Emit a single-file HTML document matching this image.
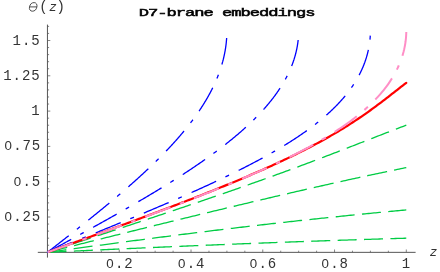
<!DOCTYPE html>
<html><head><meta charset="utf-8"><title>D7-brane embeddings</title>
<style>
html,body{margin:0;padding:0;background:#fff;}
body{width:440px;height:272px;overflow:hidden;}
svg{display:block;will-change:transform;}
text{font-family:"Liberation Mono",monospace;font-size:14px;letter-spacing:0.9px;fill:#333;}
.ttl{font-weight:normal;fill:#000;stroke:#000;stroke-width:0.5px;font-size:11.6px;letter-spacing:-0.70px;}
.lb{letter-spacing:0;fill:#333;}
.it{font-style:italic;}
.zr{font-family:"Liberation Sans",sans-serif;font-size:13.3px;letter-spacing:1.3px;}
</style></head><body>
<svg width="440" height="272" viewBox="0 0 440 272">
<rect width="440" height="272" fill="#fff"/>
<g stroke="#777" stroke-width="0.9" fill="none">
<line x1="65.44" y1="252.30" x2="65.44" y2="250.70"/>
<line x1="83.38" y1="252.30" x2="83.38" y2="250.70"/>
<line x1="101.32" y1="252.30" x2="101.32" y2="250.70"/>
<line x1="119.26" y1="252.30" x2="119.26" y2="249.50"/>
<line x1="137.20" y1="252.30" x2="137.20" y2="250.70"/>
<line x1="155.14" y1="252.30" x2="155.14" y2="250.70"/>
<line x1="173.08" y1="252.30" x2="173.08" y2="250.70"/>
<line x1="191.02" y1="252.30" x2="191.02" y2="249.50"/>
<line x1="208.96" y1="252.30" x2="208.96" y2="250.70"/>
<line x1="226.90" y1="252.30" x2="226.90" y2="250.70"/>
<line x1="244.84" y1="252.30" x2="244.84" y2="250.70"/>
<line x1="262.78" y1="252.30" x2="262.78" y2="249.50"/>
<line x1="280.72" y1="252.30" x2="280.72" y2="250.70"/>
<line x1="298.66" y1="252.30" x2="298.66" y2="250.70"/>
<line x1="316.60" y1="252.30" x2="316.60" y2="250.70"/>
<line x1="334.54" y1="252.30" x2="334.54" y2="249.50"/>
<line x1="352.48" y1="252.30" x2="352.48" y2="250.70"/>
<line x1="370.42" y1="252.30" x2="370.42" y2="250.70"/>
<line x1="388.36" y1="252.30" x2="388.36" y2="250.70"/>
<line x1="406.30" y1="252.30" x2="406.30" y2="249.50"/>
<line x1="47.50" y1="245.24" x2="49.10" y2="245.24"/>
<line x1="47.50" y1="238.18" x2="49.10" y2="238.18"/>
<line x1="47.50" y1="231.12" x2="49.10" y2="231.12"/>
<line x1="47.50" y1="224.06" x2="49.10" y2="224.06"/>
<line x1="47.50" y1="217.00" x2="50.30" y2="217.00"/>
<line x1="47.50" y1="209.94" x2="49.10" y2="209.94"/>
<line x1="47.50" y1="202.88" x2="49.10" y2="202.88"/>
<line x1="47.50" y1="195.82" x2="49.10" y2="195.82"/>
<line x1="47.50" y1="188.76" x2="49.10" y2="188.76"/>
<line x1="47.50" y1="181.70" x2="50.30" y2="181.70"/>
<line x1="47.50" y1="174.64" x2="49.10" y2="174.64"/>
<line x1="47.50" y1="167.58" x2="49.10" y2="167.58"/>
<line x1="47.50" y1="160.52" x2="49.10" y2="160.52"/>
<line x1="47.50" y1="153.46" x2="49.10" y2="153.46"/>
<line x1="47.50" y1="146.40" x2="50.30" y2="146.40"/>
<line x1="47.50" y1="139.34" x2="49.10" y2="139.34"/>
<line x1="47.50" y1="132.28" x2="49.10" y2="132.28"/>
<line x1="47.50" y1="125.22" x2="49.10" y2="125.22"/>
<line x1="47.50" y1="118.16" x2="49.10" y2="118.16"/>
<line x1="47.50" y1="111.10" x2="50.30" y2="111.10"/>
<line x1="47.50" y1="104.04" x2="49.10" y2="104.04"/>
<line x1="47.50" y1="96.98" x2="49.10" y2="96.98"/>
<line x1="47.50" y1="89.92" x2="49.10" y2="89.92"/>
<line x1="47.50" y1="82.86" x2="49.10" y2="82.86"/>
<line x1="47.50" y1="75.80" x2="50.30" y2="75.80"/>
<line x1="47.50" y1="68.74" x2="49.10" y2="68.74"/>
<line x1="47.50" y1="61.68" x2="49.10" y2="61.68"/>
<line x1="47.50" y1="54.62" x2="49.10" y2="54.62"/>
<line x1="47.50" y1="47.56" x2="49.10" y2="47.56"/>
<line x1="47.50" y1="40.50" x2="50.30" y2="40.50"/>
<line x1="47.50" y1="33.44" x2="49.10" y2="33.44"/>
<line x1="47.50" y1="26.38" x2="49.10" y2="26.38"/>
</g>
<g stroke="#555" stroke-width="1" fill="none">
<line x1="37.8" y1="252.35" x2="415.6" y2="252.35"/>
<line x1="47.45" y1="24.6" x2="47.45" y2="257.6"/>
</g>
<g>
<path d="M47.50 252.30 L49.29 252.22 L51.09 252.13 L52.88 252.05 L54.68 251.97 L56.47 251.88 L58.26 251.80 L60.06 251.72 L61.85 251.64 L63.65 251.55 L65.44 251.47 L67.23 251.39 L69.03 251.30 L70.82 251.22 L72.62 251.14 L74.41 251.06 L76.20 250.97 L78.00 250.89 L79.79 250.81 L81.59 250.72 L83.38 250.64 L85.17 250.56 L86.97 250.48 L88.76 250.39 L90.56 250.31 L92.35 250.23 L94.14 250.15 L95.94 250.07 L97.73 249.98 L99.53 249.90 L101.32 249.82 L103.11 249.74 L104.91 249.66 L106.70 249.57 L108.50 249.49 L110.29 249.41 L112.08 249.33 L113.88 249.25 L115.67 249.17 L117.47 249.09 L119.26 249.01 L121.05 248.92 L122.85 248.84 L124.64 248.76 L126.44 248.68 L128.23 248.60 L130.02 248.52 L131.82 248.44 L133.61 248.36 L135.41 248.28 L137.20 248.20 L138.99 248.12 L140.79 248.04 L142.58 247.96 L144.38 247.88 L146.17 247.80 L147.96 247.72 L149.76 247.65 L151.55 247.57 L153.35 247.49 L155.14 247.41 L156.93 247.33 L158.73 247.25 L160.52 247.18 L162.32 247.10 L164.11 247.02 L165.90 246.94 L167.70 246.86 L169.49 246.79 L171.29 246.71 L173.08 246.63 L174.87 246.56 L176.67 246.48 L178.46 246.40 L180.26 246.33 L182.05 246.25 L183.84 246.17 L185.64 246.10 L187.43 246.02 L189.23 245.95 L191.02 245.87 L192.81 245.80 L194.61 245.72 L196.40 245.65 L198.20 245.57 L199.99 245.50 L201.78 245.42 L203.58 245.35 L205.37 245.27 L207.17 245.20 L208.96 245.13 L210.75 245.05 L212.55 244.98 L214.34 244.91 L216.14 244.83 L217.93 244.76 L219.72 244.69 L221.52 244.62 L223.31 244.54 L225.11 244.47 L226.90 244.40 L228.69 244.33 L230.49 244.26 L232.28 244.19 L234.08 244.12 L235.87 244.04 L237.66 243.97 L239.46 243.90 L241.25 243.83 L243.05 243.76 L244.84 243.69 L246.63 243.62 L248.43 243.55 L250.22 243.48 L252.02 243.42 L253.81 243.35 L255.60 243.28 L257.40 243.21 L259.19 243.14 L260.99 243.07 L262.78 243.00 L264.57 242.94 L266.37 242.87 L268.16 242.80 L269.96 242.73 L271.75 242.67 L273.54 242.60 L275.34 242.53 L277.13 242.47 L278.93 242.40 L280.72 242.34 L282.51 242.27 L284.31 242.20 L286.10 242.14 L287.90 242.07 L289.69 242.01 L291.48 241.94 L293.28 241.88 L295.07 241.81 L296.87 241.75 L298.66 241.69 L300.45 241.62 L302.25 241.56 L304.04 241.49 L305.84 241.43 L307.63 241.37 L309.42 241.31 L311.22 241.24 L313.01 241.18 L314.81 241.12 L316.60 241.06 L318.39 240.99 L320.19 240.93 L321.98 240.87 L323.78 240.81 L325.57 240.75 L327.36 240.69 L329.16 240.63 L330.95 240.56 L332.75 240.50 L334.54 240.44 L336.33 240.38 L338.13 240.32 L339.92 240.26 L341.72 240.20 L343.51 240.15 L345.30 240.09 L347.10 240.03 L348.89 239.97 L350.69 239.91 L352.48 239.85 L354.27 239.79 L356.07 239.73 L357.86 239.68 L359.66 239.62 L361.45 239.56 L363.24 239.50 L365.04 239.45 L366.83 239.39 L368.63 239.33 L370.42 239.28 L372.21 239.22 L374.01 239.16 L375.80 239.11 L377.60 239.05 L379.39 239.00 L381.18 238.94 L382.98 238.88 L384.77 238.83 L386.57 238.77 L388.36 238.72 L390.15 238.66 L391.95 238.61 L393.74 238.56 L395.54 238.50 L397.33 238.45 L399.12 238.39 L400.92 238.34 L402.71 238.29 L404.51 238.23 L406.30 238.18" fill="none" stroke="#00cc44" stroke-width="1.3" stroke-dasharray="19 7.4"/>
<path d="M47.50 252.30 L49.29 252.06 L51.09 251.81 L52.88 251.57 L54.68 251.33 L56.47 251.08 L58.26 250.84 L60.06 250.59 L61.85 250.35 L63.65 250.11 L65.44 249.86 L67.23 249.62 L69.03 249.38 L70.82 249.13 L72.62 248.89 L74.41 248.65 L76.20 248.41 L78.00 248.16 L79.79 247.92 L81.59 247.68 L83.38 247.44 L85.17 247.19 L86.97 246.95 L88.76 246.71 L90.56 246.47 L92.35 246.23 L94.14 245.98 L95.94 245.74 L97.73 245.50 L99.53 245.26 L101.32 245.02 L103.11 244.78 L104.91 244.54 L106.70 244.30 L108.50 244.06 L110.29 243.82 L112.08 243.58 L113.88 243.34 L115.67 243.10 L117.47 242.86 L119.26 242.62 L121.05 242.38 L122.85 242.15 L124.64 241.91 L126.44 241.67 L128.23 241.43 L130.02 241.20 L131.82 240.96 L133.61 240.72 L135.41 240.49 L137.20 240.25 L138.99 240.02 L140.79 239.78 L142.58 239.55 L144.38 239.31 L146.17 239.08 L147.96 238.84 L149.76 238.61 L151.55 238.38 L153.35 238.14 L155.14 237.91 L156.93 237.68 L158.73 237.45 L160.52 237.22 L162.32 236.99 L164.11 236.75 L165.90 236.52 L167.70 236.29 L169.49 236.06 L171.29 235.84 L173.08 235.61 L174.87 235.38 L176.67 235.15 L178.46 234.92 L180.26 234.70 L182.05 234.47 L183.84 234.24 L185.64 234.02 L187.43 233.79 L189.23 233.56 L191.02 233.34 L192.81 233.12 L194.61 232.89 L196.40 232.67 L198.20 232.45 L199.99 232.22 L201.78 232.00 L203.58 231.78 L205.37 231.56 L207.17 231.34 L208.96 231.12 L210.75 230.90 L212.55 230.68 L214.34 230.46 L216.14 230.24 L217.93 230.02 L219.72 229.80 L221.52 229.59 L223.31 229.37 L225.11 229.15 L226.90 228.94 L228.69 228.72 L230.49 228.51 L232.28 228.29 L234.08 228.08 L235.87 227.87 L237.66 227.65 L239.46 227.44 L241.25 227.23 L243.05 227.02 L244.84 226.81 L246.63 226.60 L248.43 226.39 L250.22 226.18 L252.02 225.97 L253.81 225.76 L255.60 225.55 L257.40 225.35 L259.19 225.14 L260.99 224.93 L262.78 224.73 L264.57 224.52 L266.37 224.32 L268.16 224.11 L269.96 223.91 L271.75 223.70 L273.54 223.50 L275.34 223.30 L277.13 223.10 L278.93 222.90 L280.72 222.70 L282.51 222.50 L284.31 222.30 L286.10 222.10 L287.90 221.90 L289.69 221.70 L291.48 221.50 L293.28 221.30 L295.07 221.11 L296.87 220.91 L298.66 220.72 L300.45 220.52 L302.25 220.33 L304.04 220.13 L305.84 219.94 L307.63 219.75 L309.42 219.55 L311.22 219.36 L313.01 219.17 L314.81 218.98 L316.60 218.79 L318.39 218.60 L320.19 218.41 L321.98 218.22 L323.78 218.03 L325.57 217.84 L327.36 217.66 L329.16 217.47 L330.95 217.28 L332.75 217.10 L334.54 216.91 L336.33 216.73 L338.13 216.54 L339.92 216.36 L341.72 216.18 L343.51 216.00 L345.30 215.81 L347.10 215.63 L348.89 215.45 L350.69 215.27 L352.48 215.09 L354.27 214.91 L356.07 214.73 L357.86 214.55 L359.66 214.38 L361.45 214.20 L363.24 214.02 L365.04 213.85 L366.83 213.67 L368.63 213.50 L370.42 213.32 L372.21 213.15 L374.01 212.97 L375.80 212.80 L377.60 212.63 L379.39 212.46 L381.18 212.28 L382.98 212.11 L384.77 211.94 L386.57 211.77 L388.36 211.60 L390.15 211.44 L391.95 211.27 L393.74 211.10 L395.54 210.93 L397.33 210.77 L399.12 210.60 L400.92 210.43 L402.71 210.27 L404.51 210.10 L406.30 209.94" fill="none" stroke="#00cc44" stroke-width="1.3" stroke-dasharray="19 7.4"/>
<path d="M47.50 252.30 L49.29 251.85 L51.09 251.40 L52.88 250.95 L54.68 250.50 L56.47 250.05 L58.26 249.60 L60.06 249.14 L61.85 248.69 L63.65 248.24 L65.44 247.79 L67.23 247.34 L69.03 246.89 L70.82 246.44 L72.62 245.99 L74.41 245.54 L76.20 245.09 L78.00 244.64 L79.79 244.19 L81.59 243.74 L83.38 243.29 L85.17 242.84 L86.97 242.39 L88.76 241.94 L90.56 241.49 L92.35 241.04 L94.14 240.59 L95.94 240.14 L97.73 239.70 L99.53 239.25 L101.32 238.80 L103.11 238.35 L104.91 237.90 L106.70 237.45 L108.50 237.01 L110.29 236.56 L112.08 236.11 L113.88 235.66 L115.67 235.22 L117.47 234.77 L119.26 234.32 L121.05 233.87 L122.85 233.43 L124.64 232.98 L126.44 232.54 L128.23 232.09 L130.02 231.64 L131.82 231.20 L133.61 230.75 L135.41 230.31 L137.20 229.86 L138.99 229.42 L140.79 228.97 L142.58 228.53 L144.38 228.09 L146.17 227.64 L147.96 227.20 L149.76 226.75 L151.55 226.31 L153.35 225.87 L155.14 225.43 L156.93 224.98 L158.73 224.54 L160.52 224.10 L162.32 223.66 L164.11 223.22 L165.90 222.78 L167.70 222.34 L169.49 221.90 L171.29 221.46 L173.08 221.02 L174.87 220.58 L176.67 220.14 L178.46 219.70 L180.26 219.26 L182.05 218.82 L183.84 218.38 L185.64 217.95 L187.43 217.51 L189.23 217.07 L191.02 216.63 L192.81 216.20 L194.61 215.76 L196.40 215.33 L198.20 214.89 L199.99 214.45 L201.78 214.02 L203.58 213.58 L205.37 213.15 L207.17 212.72 L208.96 212.28 L210.75 211.85 L212.55 211.42 L214.34 210.98 L216.14 210.55 L217.93 210.12 L219.72 209.69 L221.52 209.26 L223.31 208.83 L225.11 208.40 L226.90 207.97 L228.69 207.54 L230.49 207.11 L232.28 206.68 L234.08 206.25 L235.87 205.82 L237.66 205.39 L239.46 204.96 L241.25 204.54 L243.05 204.11 L244.84 203.68 L246.63 203.26 L248.43 202.83 L250.22 202.41 L252.02 201.98 L253.81 201.56 L255.60 201.13 L257.40 200.71 L259.19 200.28 L260.99 199.86 L262.78 199.44 L264.57 199.02 L266.37 198.59 L268.16 198.17 L269.96 197.75 L271.75 197.33 L273.54 196.91 L275.34 196.49 L277.13 196.07 L278.93 195.65 L280.72 195.24 L282.51 194.82 L284.31 194.40 L286.10 193.98 L287.90 193.57 L289.69 193.15 L291.48 192.74 L293.28 192.32 L295.07 191.91 L296.87 191.49 L298.66 191.08 L300.45 190.67 L302.25 190.25 L304.04 189.84 L305.84 189.43 L307.63 189.02 L309.42 188.61 L311.22 188.20 L313.01 187.79 L314.81 187.38 L316.60 186.97 L318.39 186.57 L320.19 186.16 L321.98 185.75 L323.78 185.35 L325.57 184.94 L327.36 184.54 L329.16 184.14 L330.95 183.73 L332.75 183.33 L334.54 182.93 L336.33 182.53 L338.13 182.13 L339.92 181.73 L341.72 181.33 L343.51 180.93 L345.30 180.53 L347.10 180.14 L348.89 179.74 L350.69 179.35 L352.48 178.95 L354.27 178.56 L356.07 178.17 L357.86 177.78 L359.66 177.39 L361.45 177.00 L363.24 176.61 L365.04 176.22 L366.83 175.83 L368.63 175.45 L370.42 175.06 L372.21 174.68 L374.01 174.29 L375.80 173.91 L377.60 173.53 L379.39 173.15 L381.18 172.77 L382.98 172.39 L384.77 172.02 L386.57 171.64 L388.36 171.26 L390.15 170.89 L391.95 170.52 L393.74 170.15 L395.54 169.78 L397.33 169.41 L399.12 169.04 L400.92 168.67 L402.71 168.31 L404.51 167.94 L406.30 167.58" fill="none" stroke="#00cc44" stroke-width="1.3" stroke-dasharray="20.3 7.1"/>
<path d="M47.50 252.30 L49.29 251.71 L51.09 251.12 L52.88 250.53 L54.68 249.93 L56.47 249.34 L58.26 248.75 L60.06 248.16 L61.85 247.57 L63.65 246.98 L65.44 246.38 L67.23 245.79 L69.03 245.20 L70.82 244.61 L72.62 244.02 L74.41 243.42 L76.20 242.83 L78.00 242.24 L79.79 241.65 L81.59 241.06 L83.38 240.46 L85.17 239.87 L86.97 239.28 L88.76 238.69 L90.56 238.09 L92.35 237.50 L94.14 236.91 L95.94 236.32 L97.73 235.72 L99.53 235.13 L101.32 234.54 L103.11 233.94 L104.91 233.35 L106.70 232.76 L108.50 232.16 L110.29 231.57 L112.08 230.97 L113.88 230.38 L115.67 229.79 L117.47 229.19 L119.26 228.60 L121.05 228.00 L122.85 227.41 L124.64 226.81 L126.44 226.22 L128.23 225.62 L130.02 225.03 L131.82 224.43 L133.61 223.83 L135.41 223.24 L137.20 222.64 L138.99 222.04 L140.79 221.45 L142.58 220.85 L144.38 220.25 L146.17 219.65 L147.96 219.05 L149.76 218.45 L151.55 217.86 L153.35 217.26 L155.14 216.66 L156.93 216.06 L158.73 215.46 L160.52 214.86 L162.32 214.26 L164.11 213.65 L165.90 213.05 L167.70 212.45 L169.49 211.85 L171.29 211.24 L173.08 210.64 L174.87 210.04 L176.67 209.43 L178.46 208.83 L180.26 208.22 L182.05 207.62 L183.84 207.01 L185.64 206.40 L187.43 205.80 L189.23 205.19 L191.02 204.58 L192.81 203.97 L194.61 203.36 L196.40 202.75 L198.20 202.14 L199.99 201.53 L201.78 200.92 L203.58 200.31 L205.37 199.70 L207.17 199.08 L208.96 198.47 L210.75 197.85 L212.55 197.24 L214.34 196.62 L216.14 196.00 L217.93 195.38 L219.72 194.77 L221.52 194.15 L223.31 193.53 L225.11 192.91 L226.90 192.28 L228.69 191.66 L230.49 191.04 L232.28 190.41 L234.08 189.79 L235.87 189.16 L237.66 188.53 L239.46 187.91 L241.25 187.28 L243.05 186.65 L244.84 186.02 L246.63 185.39 L248.43 184.75 L250.22 184.12 L252.02 183.48 L253.81 182.85 L255.60 182.21 L257.40 181.57 L259.19 180.93 L260.99 180.29 L262.78 179.65 L264.57 179.01 L266.37 178.36 L268.16 177.72 L269.96 177.07 L271.75 176.43 L273.54 175.78 L275.34 175.13 L277.13 174.48 L278.93 173.83 L280.72 173.17 L282.51 172.52 L284.31 171.86 L286.10 171.20 L287.90 170.55 L289.69 169.89 L291.48 169.22 L293.28 168.56 L295.07 167.90 L296.87 167.23 L298.66 166.57 L300.45 165.90 L302.25 165.23 L304.04 164.56 L305.84 163.89 L307.63 163.21 L309.42 162.54 L311.22 161.86 L313.01 161.19 L314.81 160.51 L316.60 159.83 L318.39 159.15 L320.19 158.47 L321.98 157.78 L323.78 157.10 L325.57 156.41 L327.36 155.72 L329.16 155.04 L330.95 154.35 L332.75 153.66 L334.54 152.97 L336.33 152.27 L338.13 151.58 L339.92 150.88 L341.72 150.19 L343.51 149.49 L345.30 148.80 L347.10 148.10 L348.89 147.40 L350.69 146.70 L352.48 146.00 L354.27 145.30 L356.07 144.60 L357.86 143.90 L359.66 143.20 L361.45 142.50 L363.24 141.80 L365.04 141.09 L366.83 140.39 L368.63 139.69 L370.42 138.99 L372.21 138.29 L374.01 137.59 L375.80 136.89 L377.60 136.19 L379.39 135.49 L381.18 134.80 L382.98 134.10 L384.77 133.41 L386.57 132.71 L388.36 132.02 L390.15 131.33 L391.95 130.64 L393.74 129.96 L395.54 129.27 L397.33 128.59 L399.12 127.91 L400.92 127.23 L402.71 126.56 L404.51 125.89 L406.30 125.22" fill="none" stroke="#00cc44" stroke-width="1.3" stroke-dasharray="19 7.4"/>
<path d="M47.50 252.30 L48.21 251.74 L48.92 251.19 L49.64 250.63 L50.35 250.08 L51.06 249.52 L51.77 248.96 L52.48 248.41 L53.19 247.85 L53.91 247.30 L54.62 246.74 L55.33 246.19 L56.04 245.63 L56.75 245.07 L57.46 244.52 L58.17 243.96 L58.88 243.41 L59.59 242.85 L60.30 242.29 L61.01 241.74 L61.72 241.18 L62.43 240.63 L63.14 240.07 L63.85 239.51 L64.56 238.96 L65.27 238.40 L65.98 237.85 L66.68 237.29 L67.39 236.74 L68.10 236.18 L68.81 235.62 L69.51 235.07 L70.22 234.51 L70.92 233.96 L71.63 233.40 L72.34 232.84 L73.04 232.29 L73.75 231.73 L74.45 231.18 L75.15 230.62 L75.86 230.06 L76.56 229.51 L77.26 228.95 L77.96 228.40 L78.66 227.84 L79.37 227.29 L80.07 226.73 L80.77 226.17 L81.47 225.62 L82.16 225.06 L82.86 224.51 L83.56 223.95 L84.26 223.39 L84.95 222.84 L85.65 222.28 L86.35 221.73 L87.04 221.17 L87.74 220.61 L88.43 220.06 L89.12 219.50 L89.81 218.95 L90.51 218.39 L91.20 217.84 L91.89 217.28 L92.58 216.72 L93.27 216.17 L93.95 215.61 L94.64 215.06 L95.33 214.50 L96.01 213.94 L96.70 213.39 L97.38 212.83 L98.07 212.28 L98.75 211.72 L99.43 211.16 L100.11 210.61 L100.79 210.05 L101.47 209.50 L102.15 208.94 L102.83 208.39 L103.51 207.83 L104.18 207.27 L104.86 206.72 L105.53 206.16 L106.21 205.61 L106.88 205.05 L107.55 204.49 L108.22 203.94 L108.89 203.38 L109.56 202.83 L110.23 202.27 L110.89 201.71 L111.56 201.16 L112.22 200.60 L112.89 200.05 L113.55 199.49 L114.21 198.94 L114.87 198.38 L115.53 197.82 L116.19 197.27 L116.85 196.71 L117.51 196.16 L118.16 195.60 L118.81 195.04 L119.47 194.49 L120.12 193.93 L120.77 193.38 L121.42 192.82 L122.07 192.26 L122.71 191.71 L123.36 191.15 L124.01 190.60 L124.65 190.04 L125.29 189.49 L125.93 188.93 L126.57 188.37 L127.21 187.82 L127.85 187.26 L128.48 186.71 L129.12 186.15 L129.75 185.59 L130.38 185.04 L131.02 184.48 L131.64 183.93 L132.27 183.37 L132.90 182.81 L133.53 182.26 L134.15 181.70 L134.77 181.15 L135.39 180.59 L136.01 180.04 L136.63 179.48 L137.25 178.92 L137.86 178.37 L138.48 177.81 L139.09 177.26 L139.70 176.70 L140.31 176.14 L140.92 175.59 L141.53 175.03 L142.13 174.48 L142.74 173.92 L143.34 173.36 L143.94 172.81 L144.54 172.25 L145.14 171.70 L145.73 171.14 L146.33 170.59 L146.92 170.03 L147.51 169.47 L148.10 168.92 L148.69 168.36 L149.28 167.81 L149.86 167.25 L150.45 166.69 L151.03 166.14 L151.61 165.58 L152.19 165.03 L152.76 164.47 L153.34 163.91 L153.91 163.36 L154.48 162.80 L155.05 162.25 L155.62 161.69 L156.19 161.14 L156.75 160.58 L157.32 160.02 L157.88 159.47 L158.44 158.91 L158.99 158.36 L159.55 157.80 L160.10 157.24 L160.66 156.69 L161.21 156.13 L161.76 155.58 L162.30 155.02 L162.85 154.46 L163.39 153.91 L163.93 153.35 L164.47 152.80 L165.01 152.24 L165.54 151.69 L166.08 151.13 L166.61 150.57 L167.14 150.02 L167.67 149.46 L168.19 148.91 L168.72 148.35 L169.24 147.79 L169.76 147.24 L170.28 146.68 L170.80 146.13 L171.31 145.57 L171.82 145.02 L172.33 144.46 L172.84 143.90 L173.35 143.35 L173.85 142.79 L174.36 142.24 L174.86 141.68 L175.35 141.12 L175.85 140.57 L176.34 140.01 L176.84 139.46 L177.33 138.90 L177.82 138.34 L178.30 137.79 L178.79 137.23 L179.27 136.68 L179.75 136.12 L180.22 135.57 L180.70 135.01 L181.17 134.45 L181.64 133.90 L182.11 133.34 L182.58 132.79 L183.05 132.23 L183.51 131.67 L183.97 131.12 L184.43 130.56 L184.88 130.01 L185.34 129.45 L185.79 128.89 L186.24 128.34 L186.69 127.78 L187.13 127.23 L187.57 126.67 L188.01 126.12 L188.45 125.56 L188.89 125.00 L189.32 124.45 L189.75 123.89 L190.18 123.34 L190.61 122.78 L191.04 122.22 L191.46 121.67 L191.88 121.11 L192.30 120.56 L192.71 120.00 L193.13 119.44 L193.54 118.89 L193.95 118.33 L194.35 117.78 L194.76 117.22 L195.16 116.67 L195.56 116.11 L195.95 115.55 L196.35 115.00 L196.74 114.44 L197.13 113.89 L197.52 113.33 L197.91 112.77 L198.29 112.22 L198.67 111.66 L199.05 111.11 L199.42 110.55 L199.80 109.99 L200.17 109.44 L200.54 108.88 L200.90 108.33 L201.27 107.77 L201.63 107.22 L201.99 106.66 L202.34 106.10 L202.70 105.55 L203.05 104.99 L203.40 104.44 L203.75 103.88 L204.09 103.32 L204.43 102.77 L204.77 102.21 L205.11 101.66 L205.44 101.10 L205.78 100.54 L206.10 99.99 L206.43 99.43 L206.76 98.88 L207.08 98.32 L207.40 97.77 L207.72 97.21 L208.03 96.65 L208.34 96.10 L208.65 95.54 L208.96 94.99 L209.26 94.43 L209.57 93.87 L209.87 93.32 L210.16 92.76 L210.46 92.21 L210.75 91.65 L211.04 91.09 L211.33 90.54 L211.61 89.98 L211.89 89.43 L212.17 88.87 L212.45 88.32 L212.72 87.76 L212.99 87.20 L213.26 86.65 L213.53 86.09 L213.79 85.54 L214.06 84.98 L214.31 84.42 L214.57 83.87 L214.82 83.31 L215.08 82.76 L215.32 82.20 L215.57 81.64 L215.81 81.09 L216.05 80.53 L216.29 79.98 L216.53 79.42 L216.76 78.87 L216.99 78.31 L217.22 77.75 L217.45 77.20 L217.67 76.64 L217.89 76.09 L218.11 75.53 L218.32 74.97 L218.53 74.42 L218.74 73.86 L218.95 73.31 L219.15 72.75 L219.35 72.19 L219.55 71.64 L219.75 71.08 L219.94 70.53 L220.14 69.97 L220.32 69.42 L220.51 68.86 L220.69 68.30 L220.87 67.75 L221.05 67.19 L221.23 66.64 L221.40 66.08 L221.57 65.52 L221.74 64.97 L221.90 64.41 L222.06 63.86 L222.22 63.30 L222.38 62.74 L222.53 62.19 L222.69 61.63 L222.83 61.08 L222.98 60.52 L223.12 59.97 L223.27 59.41 L223.40 58.85 L223.54 58.30 L223.67 57.74 L223.80 57.19 L223.93 56.63 L224.05 56.07 L224.18 55.52 L224.30 54.96 L224.41 54.41 L224.53 53.85 L224.64 53.29 L224.75 52.74 L224.85 52.18 L224.96 51.63 L225.06 51.07 L225.16 50.52 L225.25 49.96 L225.34 49.40 L225.43 48.85 L225.52 48.29 L225.61 47.74 L225.69 47.18 L225.77 46.62 L225.84 46.07 L225.92 45.51 L225.99 44.96 L226.06 44.40 L226.12 43.84 L226.19 43.29 L226.25 42.73 L226.31 42.18 L226.36 41.62 L226.41 41.07 L226.46 40.51 L226.51 39.95 L226.56 39.40 L226.60 38.84 L226.64 38.29 L226.67 37.73 L226.71 37.17 L226.74 36.62 L226.77 36.06 L226.79 35.51 L226.81 34.95 L226.83 34.39 L226.85 33.84 L226.87 33.28" fill="none" stroke="#0000ff" stroke-width="1.3" stroke-dasharray="27 10.3 4 10.7"/>
<path d="M47.50 252.30 L48.52 251.74 L49.54 251.19 L50.56 250.63 L51.58 250.08 L52.60 249.52 L53.62 248.96 L54.64 248.41 L55.66 247.85 L56.68 247.30 L57.69 246.74 L58.71 246.19 L59.73 245.63 L60.75 245.07 L61.77 244.52 L62.79 243.96 L63.80 243.41 L64.82 242.85 L65.84 242.29 L66.86 241.74 L67.87 241.18 L68.89 240.63 L69.91 240.07 L70.92 239.51 L71.94 238.96 L72.95 238.40 L73.97 237.85 L74.98 237.29 L75.99 236.74 L77.01 236.18 L78.02 235.62 L79.03 235.07 L80.04 234.51 L81.06 233.96 L82.07 233.40 L83.08 232.84 L84.09 232.29 L85.10 231.73 L86.10 231.18 L87.11 230.62 L88.12 230.06 L89.13 229.51 L90.13 228.95 L91.14 228.40 L92.14 227.84 L93.15 227.29 L94.15 226.73 L95.15 226.17 L96.15 225.62 L97.16 225.06 L98.16 224.51 L99.16 223.95 L100.15 223.39 L101.15 222.84 L102.15 222.28 L103.14 221.73 L104.14 221.17 L105.13 220.61 L106.13 220.06 L107.12 219.50 L108.11 218.95 L109.10 218.39 L110.09 217.84 L111.08 217.28 L112.07 216.72 L113.05 216.17 L114.04 215.61 L115.02 215.06 L116.01 214.50 L116.99 213.94 L117.97 213.39 L118.95 212.83 L119.93 212.28 L120.91 211.72 L121.88 211.16 L122.86 210.61 L123.83 210.05 L124.81 209.50 L125.78 208.94 L126.75 208.39 L127.72 207.83 L128.68 207.27 L129.65 206.72 L130.62 206.16 L131.58 205.61 L132.54 205.05 L133.50 204.49 L134.46 203.94 L135.42 203.38 L136.38 202.83 L137.33 202.27 L138.28 201.71 L139.24 201.16 L140.19 200.60 L141.14 200.05 L142.08 199.49 L143.03 198.94 L143.97 198.38 L144.92 197.82 L145.86 197.27 L146.80 196.71 L147.74 196.16 L148.67 195.60 L149.61 195.04 L150.54 194.49 L151.47 193.93 L152.40 193.38 L153.33 192.82 L154.25 192.26 L155.18 191.71 L156.10 191.15 L157.02 190.60 L157.94 190.04 L158.85 189.49 L159.77 188.93 L160.68 188.37 L161.59 187.82 L162.50 187.26 L163.41 186.71 L164.31 186.15 L165.22 185.59 L166.12 185.04 L167.02 184.48 L167.91 183.93 L168.81 183.37 L169.70 182.81 L170.59 182.26 L171.48 181.70 L172.37 181.15 L173.25 180.59 L174.13 180.04 L175.01 179.48 L175.89 178.92 L176.77 178.37 L177.64 177.81 L178.51 177.26 L179.38 176.70 L180.25 176.14 L181.11 175.59 L181.97 175.03 L182.83 174.48 L183.69 173.92 L184.55 173.36 L185.40 172.81 L186.25 172.25 L187.10 171.70 L187.94 171.14 L188.79 170.59 L189.63 170.03 L190.46 169.47 L191.30 168.92 L192.13 168.36 L192.96 167.81 L193.79 167.25 L194.62 166.69 L195.44 166.14 L196.26 165.58 L197.08 165.03 L197.89 164.47 L198.71 163.91 L199.52 163.36 L200.32 162.80 L201.13 162.25 L201.93 161.69 L202.73 161.14 L203.52 160.58 L204.32 160.02 L205.11 159.47 L205.90 158.91 L206.68 158.36 L207.47 157.80 L208.25 157.24 L209.02 156.69 L209.80 156.13 L210.57 155.58 L211.34 155.02 L212.10 154.46 L212.86 153.91 L213.62 153.35 L214.38 152.80 L215.14 152.24 L215.89 151.69 L216.63 151.13 L217.38 150.57 L218.12 150.02 L218.86 149.46 L219.60 148.91 L220.33 148.35 L221.06 147.79 L221.79 147.24 L222.51 146.68 L223.23 146.13 L223.95 145.57 L224.67 145.02 L225.38 144.46 L226.09 143.90 L226.79 143.35 L227.49 142.79 L228.19 142.24 L228.89 141.68 L229.58 141.12 L230.27 140.57 L230.96 140.01 L231.64 139.46 L232.32 138.90 L233.00 138.34 L233.67 137.79 L234.34 137.23 L235.01 136.68 L235.68 136.12 L236.34 135.57 L236.99 135.01 L237.65 134.45 L238.30 133.90 L238.95 133.34 L239.59 132.79 L240.23 132.23 L240.87 131.67 L241.51 131.12 L242.14 130.56 L242.76 130.01 L243.39 129.45 L244.01 128.89 L244.63 128.34 L245.24 127.78 L245.85 127.23 L246.46 126.67 L247.07 126.12 L247.67 125.56 L248.26 125.00 L248.86 124.45 L249.45 123.89 L250.04 123.34 L250.62 122.78 L251.20 122.22 L251.78 121.67 L252.35 121.11 L252.92 120.56 L253.49 120.00 L254.05 119.44 L254.61 118.89 L255.16 118.33 L255.72 117.78 L256.27 117.22 L256.81 116.67 L257.35 116.11 L257.89 115.55 L258.43 115.00 L258.96 114.44 L259.49 113.89 L260.01 113.33 L260.53 112.77 L261.05 112.22 L261.57 111.66 L262.08 111.11 L262.58 110.55 L263.09 109.99 L263.59 109.44 L264.08 108.88 L264.58 108.33 L265.06 107.77 L265.55 107.22 L266.03 106.66 L266.51 106.10 L266.99 105.55 L267.46 104.99 L267.93 104.44 L268.39 103.88 L268.85 103.32 L269.31 102.77 L269.76 102.21 L270.21 101.66 L270.66 101.10 L271.10 100.54 L271.54 99.99 L271.98 99.43 L272.41 98.88 L272.84 98.32 L273.26 97.77 L273.69 97.21 L274.10 96.65 L274.52 96.10 L274.93 95.54 L275.34 94.99 L275.74 94.43 L276.14 93.87 L276.54 93.32 L276.93 92.76 L277.32 92.21 L277.71 91.65 L278.09 91.09 L278.47 90.54 L278.84 89.98 L279.21 89.43 L279.58 88.87 L279.95 88.32 L280.31 87.76 L280.66 87.20 L281.02 86.65 L281.37 86.09 L281.72 85.54 L282.06 84.98 L282.40 84.42 L282.73 83.87 L283.07 83.31 L283.40 82.76 L283.72 82.20 L284.04 81.64 L284.36 81.09 L284.68 80.53 L284.99 79.98 L285.29 79.42 L285.60 78.87 L285.90 78.31 L286.20 77.75 L286.49 77.20 L286.78 76.64 L287.06 76.09 L287.35 75.53 L287.63 74.97 L287.90 74.42 L288.17 73.86 L288.44 73.31 L288.71 72.75 L288.97 72.19 L289.23 71.64 L289.48 71.08 L289.73 70.53 L289.98 69.97 L290.22 69.42 L290.46 68.86 L290.70 68.30 L290.94 67.75 L291.16 67.19 L291.39 66.64 L291.61 66.08 L291.83 65.52 L292.05 64.97 L292.26 64.41 L292.47 63.86 L292.68 63.30 L292.88 62.74 L293.08 62.19 L293.27 61.63 L293.46 61.08 L293.65 60.52 L293.83 59.97 L294.02 59.41 L294.19 58.85 L294.37 58.30 L294.54 57.74 L294.70 57.19 L294.87 56.63 L295.03 56.07 L295.18 55.52 L295.34 54.96 L295.49 54.41 L295.63 53.85 L295.78 53.29 L295.91 52.74 L296.05 52.18 L296.18 51.63 L296.31 51.07 L296.44 50.52 L296.56 49.96 L296.68 49.40 L296.79 48.85 L296.90 48.29 L297.01 47.74 L297.12 47.18 L297.22 46.62 L297.32 46.07 L297.41 45.51 L297.50 44.96 L297.59 44.40 L297.67 43.84 L297.75 43.29 L297.83 42.73 L297.90 42.18 L297.97 41.62 L298.04 41.07 L298.10 40.51 L298.16 39.95 L298.22 39.40 L298.27 38.84 L298.32 38.29 L298.37 37.73 L298.41 37.17 L298.45 36.62 L298.49 36.06 L298.52 35.51 L298.55 34.95 L298.58 34.39 L298.60 33.84 L298.62 33.28" fill="none" stroke="#0000ff" stroke-width="1.3" stroke-dasharray="27 10.3 4 10.7"/>
<path d="M47.50 252.30 L48.88 251.74 L50.26 251.19 L51.65 250.63 L53.03 250.08 L54.41 249.52 L55.79 248.96 L57.18 248.41 L58.56 247.85 L59.94 247.30 L61.32 246.74 L62.70 246.19 L64.08 245.63 L65.46 245.07 L66.84 244.52 L68.22 243.96 L69.60 243.41 L70.98 242.85 L72.36 242.29 L73.74 241.74 L75.12 241.18 L76.50 240.63 L77.88 240.07 L79.25 239.51 L80.63 238.96 L82.01 238.40 L83.38 237.85 L84.76 237.29 L86.13 236.74 L87.51 236.18 L88.88 235.62 L90.25 235.07 L91.62 234.51 L92.99 233.96 L94.37 233.40 L95.74 232.84 L97.11 232.29 L98.47 231.73 L99.84 231.18 L101.21 230.62 L102.57 230.06 L103.94 229.51 L105.30 228.95 L106.67 228.40 L108.03 227.84 L109.39 227.29 L110.75 226.73 L112.11 226.17 L113.47 225.62 L114.83 225.06 L116.19 224.51 L117.54 223.95 L118.90 223.39 L120.25 222.84 L121.60 222.28 L122.95 221.73 L124.30 221.17 L125.65 220.61 L127.00 220.06 L128.34 219.50 L129.69 218.95 L131.03 218.39 L132.37 217.84 L133.71 217.28 L135.05 216.72 L136.39 216.17 L137.73 215.61 L139.06 215.06 L140.39 214.50 L141.73 213.94 L143.06 213.39 L144.38 212.83 L145.71 212.28 L147.04 211.72 L148.36 211.16 L149.68 210.61 L151.00 210.05 L152.32 209.50 L153.64 208.94 L154.95 208.39 L156.26 207.83 L157.57 207.27 L158.88 206.72 L160.19 206.16 L161.49 205.61 L162.80 205.05 L164.10 204.49 L165.40 203.94 L166.69 203.38 L167.99 202.83 L169.28 202.27 L170.57 201.71 L171.86 201.16 L173.14 200.60 L174.43 200.05 L175.71 199.49 L176.99 198.94 L178.26 198.38 L179.54 197.82 L180.81 197.27 L182.08 196.71 L183.34 196.16 L184.61 195.60 L185.87 195.04 L187.13 194.49 L188.38 193.93 L189.64 193.38 L190.89 192.82 L192.13 192.26 L193.38 191.71 L194.62 191.15 L195.86 190.60 L197.10 190.04 L198.33 189.49 L199.56 188.93 L200.79 188.37 L202.02 187.82 L203.24 187.26 L204.46 186.71 L205.67 186.15 L206.89 185.59 L208.09 185.04 L209.30 184.48 L210.50 183.93 L211.70 183.37 L212.90 182.81 L214.09 182.26 L215.28 181.70 L216.47 181.15 L217.65 180.59 L218.83 180.04 L220.01 179.48 L221.18 178.92 L222.35 178.37 L223.52 177.81 L224.68 177.26 L225.84 176.70 L226.99 176.14 L228.15 175.59 L229.29 175.03 L230.44 174.48 L231.58 173.92 L232.71 173.36 L233.85 172.81 L234.98 172.25 L236.10 171.70 L237.22 171.14 L238.34 170.59 L239.45 170.03 L240.56 169.47 L241.66 168.92 L242.77 168.36 L243.86 167.81 L244.96 167.25 L246.04 166.69 L247.13 166.14 L248.21 165.58 L249.28 165.03 L250.36 164.47 L251.42 163.91 L252.49 163.36 L253.55 162.80 L254.60 162.25 L255.65 161.69 L256.70 161.14 L257.74 160.58 L258.77 160.02 L259.81 159.47 L260.83 158.91 L261.86 158.36 L262.88 157.80 L263.89 157.24 L264.90 156.69 L265.91 156.13 L266.91 155.58 L267.90 155.02 L268.89 154.46 L269.88 153.91 L270.86 153.35 L271.84 152.80 L272.81 152.24 L273.78 151.69 L274.74 151.13 L275.70 150.57 L276.65 150.02 L277.60 149.46 L278.55 148.91 L279.49 148.35 L280.42 147.79 L281.35 147.24 L282.27 146.68 L283.19 146.13 L284.11 145.57 L285.01 145.02 L285.92 144.46 L286.82 143.90 L287.71 143.35 L288.60 142.79 L289.49 142.24 L290.37 141.68 L291.24 141.12 L292.11 140.57 L292.97 140.01 L293.83 139.46 L294.69 138.90 L295.53 138.34 L296.38 137.79 L297.22 137.23 L298.05 136.68 L298.88 136.12 L299.70 135.57 L300.52 135.01 L301.33 134.45 L302.14 133.90 L302.94 133.34 L303.74 132.79 L304.53 132.23 L305.32 131.67 L306.10 131.12 L306.88 130.56 L307.65 130.01 L308.42 129.45 L309.18 128.89 L309.93 128.34 L310.68 127.78 L311.43 127.23 L312.17 126.67 L312.90 126.12 L313.63 125.56 L314.36 125.00 L315.08 124.45 L315.79 123.89 L316.50 123.34 L317.21 122.78 L317.90 122.22 L318.60 121.67 L319.29 121.11 L319.97 120.56 L320.65 120.00 L321.32 119.44 L321.99 118.89 L322.65 118.33 L323.31 117.78 L323.96 117.22 L324.61 116.67 L325.25 116.11 L325.89 115.55 L326.52 115.00 L327.14 114.44 L327.76 113.89 L328.38 113.33 L328.99 112.77 L329.60 112.22 L330.20 111.66 L330.79 111.11 L331.39 110.55 L331.97 109.99 L332.55 109.44 L333.13 108.88 L333.70 108.33 L334.26 107.77 L334.82 107.22 L335.38 106.66 L335.93 106.10 L336.48 105.55 L337.02 104.99 L337.55 104.44 L338.08 103.88 L338.61 103.32 L339.13 102.77 L339.64 102.21 L340.15 101.66 L340.66 101.10 L341.16 100.54 L341.66 99.99 L342.15 99.43 L342.64 98.88 L343.12 98.32 L343.60 97.77 L344.07 97.21 L344.53 96.65 L345.00 96.10 L345.46 95.54 L345.91 94.99 L346.36 94.43 L346.80 93.87 L347.24 93.32 L347.67 92.76 L348.10 92.21 L348.53 91.65 L348.95 91.09 L349.37 90.54 L349.78 89.98 L350.18 89.43 L350.59 88.87 L350.98 88.32 L351.38 87.76 L351.76 87.20 L352.15 86.65 L352.53 86.09 L352.90 85.54 L353.27 84.98 L353.64 84.42 L354.00 83.87 L354.36 83.31 L354.71 82.76 L355.06 82.20 L355.40 81.64 L355.74 81.09 L356.08 80.53 L356.41 79.98 L356.74 79.42 L357.06 78.87 L357.38 78.31 L357.69 77.75 L358.00 77.20 L358.31 76.64 L358.61 76.09 L358.91 75.53 L359.20 74.97 L359.49 74.42 L359.78 73.86 L360.06 73.31 L360.33 72.75 L360.61 72.19 L360.87 71.64 L361.14 71.08 L361.40 70.53 L361.66 69.97 L361.91 69.42 L362.16 68.86 L362.40 68.30 L362.64 67.75 L362.88 67.19 L363.11 66.64 L363.34 66.08 L363.57 65.52 L363.79 64.97 L364.00 64.41 L364.22 63.86 L364.43 63.30 L364.63 62.74 L364.84 62.19 L365.03 61.63 L365.23 61.08 L365.42 60.52 L365.61 59.97 L365.79 59.41 L365.97 58.85 L366.14 58.30 L366.32 57.74 L366.48 57.19 L366.65 56.63 L366.81 56.07 L366.97 55.52 L367.12 54.96 L367.27 54.41 L367.42 53.85 L367.56 53.29 L367.70 52.74 L367.84 52.18 L367.97 51.63 L368.10 51.07 L368.22 50.52 L368.34 49.96 L368.46 49.40 L368.57 48.85 L368.69 48.29 L368.79 47.74 L368.90 47.18 L369.00 46.62 L369.09 46.07 L369.19 45.51 L369.28 44.96 L369.36 44.40 L369.45 43.84 L369.53 43.29 L369.60 42.73 L369.68 42.18 L369.75 41.62 L369.81 41.07 L369.87 40.51 L369.93 39.95 L369.99 39.40 L370.04 38.84 L370.09 38.29 L370.14 37.73 L370.18 37.17 L370.22 36.62 L370.25 36.06 L370.28 35.51 L370.31 34.95 L370.34 34.39 L370.36 33.84 L370.38 33.28" fill="none" stroke="#0000ff" stroke-width="1.3" stroke-dasharray="27 10.3 4 10.7"/>
<path d="M49.29 251.65 L51.09 251.00 L52.88 250.35 L54.68 249.70 L56.47 249.05 L58.26 248.40 L60.06 247.74 L61.85 247.09 L63.65 246.44 L65.44 245.79 L67.23 245.14 L69.03 244.49 L70.82 243.84 L72.62 243.19 L74.41 242.53 L76.20 241.88 L78.00 241.23 L79.79 240.58 L81.59 239.93 L83.38 239.27 L85.17 238.62 L86.97 237.97 L88.76 237.31 L90.56 236.66 L92.35 236.01 L94.14 235.35 L95.94 234.70 L97.73 234.04 L99.53 233.39 L101.32 232.73 L103.11 232.08 L104.91 231.42 L106.70 230.76 L108.50 230.11 L110.29 229.45 L112.08 228.79 L113.88 228.13 L115.67 227.48 L117.47 226.82 L119.26 226.16 L121.05 225.50 L122.85 224.84 L124.64 224.17 L126.44 223.51 L128.23 222.85 L130.02 222.19 L131.82 221.53 L133.61 220.86 L135.41 220.20 L137.20 219.53 L138.99 218.87 L140.79 218.20 L142.58 217.53 L144.38 216.86 L146.17 216.19 L147.96 215.53 L149.76 214.86 L151.55 214.18 L153.35 213.51 L155.14 212.84 L156.93 212.17 L158.73 211.49 L160.52 210.82 L162.32 210.14 L164.11 209.46 L165.90 208.78 L167.70 208.10 L169.49 207.42 L171.29 206.74 L173.08 206.06 L174.87 205.37 L176.67 204.69 L178.46 204.00 L180.26 203.32 L182.05 202.63 L183.84 201.94 L185.64 201.25 L187.43 200.55 L189.23 199.86 L191.02 199.16 L192.81 198.47 L194.61 197.77 L196.40 197.07 L198.20 196.37 L199.99 195.66 L201.78 194.96 L203.58 194.25 L205.37 193.54 L207.17 192.83 L208.96 192.12 L210.75 191.41 L212.55 190.69 L214.34 189.97 L216.14 189.26 L217.93 188.53 L219.72 187.81 L221.52 187.08 L223.31 186.36 L225.11 185.63 L226.90 184.89 L228.69 184.16 L230.49 183.42 L232.28 182.68 L234.08 181.94 L235.87 181.19 L237.66 180.45 L239.46 179.70 L241.25 178.94 L243.05 178.19 L244.84 177.43 L246.63 176.67 L248.43 175.90 L250.22 175.13 L252.02 174.36 L253.81 173.59 L255.60 172.81 L257.40 172.03 L259.19 171.24 L260.99 170.45 L262.78 169.66 L264.57 168.87 L266.37 168.07 L268.16 167.26 L269.96 166.45 L271.75 165.64 L273.54 164.83 L275.34 164.00 L277.13 163.18 L278.93 162.35 L280.72 161.51 L282.51 160.68 L284.31 159.83 L286.10 158.98 L287.90 158.13 L289.69 157.27 L291.48 156.40 L293.28 155.53 L295.07 154.65 L296.87 153.77 L298.66 152.88 L300.45 151.99 L302.25 151.09 L304.04 150.18 L305.84 149.26 L307.63 148.34 L309.42 147.41 L311.22 146.48 L313.01 145.54 L314.81 144.59 L316.60 143.63 L318.39 142.66 L320.19 141.69 L321.98 140.71 L323.78 139.71 L325.57 138.71 L327.36 137.71 L329.16 136.69 L330.95 135.66 L332.75 134.62 L334.54 133.58 L336.33 132.52 L338.13 131.45 L339.92 130.38 L341.72 129.29 L343.51 128.19 L345.30 127.08 L347.10 125.95 L348.89 124.82 L350.69 123.68 L352.48 122.52 L354.27 121.35 L356.07 120.17 L357.86 118.97 L359.66 117.76 L361.45 116.54 L363.24 115.31 L365.04 114.06 L366.83 112.80 L368.63 111.53 L370.42 110.25 L372.21 108.95 L374.01 107.64 L375.80 106.32 L377.60 104.99 L379.39 103.64 L381.18 102.29 L382.98 100.92 L384.77 99.55 L386.57 98.17 L388.36 96.78 L390.15 95.39 L391.95 93.99 L393.74 92.59 L395.54 91.19 L397.33 89.79 L399.12 88.39 L400.92 86.99 L402.71 85.61 L404.51 84.23 L406.30 82.86" fill="none" stroke="#ff0000" stroke-width="2.2" stroke-linecap="round"/>
<path d="M47.50 252.30 L49.29 251.65 L51.09 251.01 L52.88 250.36 L54.68 249.71 L56.47 249.06 L58.26 248.42 L60.06 247.77 L61.85 247.12 L63.65 246.47 L65.44 245.83 L67.23 245.18 L69.03 244.53 L70.82 243.88 L72.62 243.23 L74.41 242.58 L76.20 241.94 L78.00 241.29 L79.79 240.64 L81.59 239.99 L83.38 239.34 L85.17 238.69 L86.97 238.04 L88.76 237.39 L90.56 236.74 L92.35 236.09 L94.14 235.44 L95.94 234.79 L97.73 234.13 L99.53 233.48 L101.32 232.83 L103.11 232.18 L104.91 231.52 L106.70 230.87 L108.50 230.22 L110.29 229.56 L112.08 228.91 L113.88 228.25 L115.67 227.60 L117.47 226.94 L119.26 226.28 L121.05 225.63 L122.85 224.97 L124.64 224.31 L126.44 223.65 L128.23 222.99 L130.02 222.33 L131.82 221.67 L133.61 221.01 L135.41 220.35 L137.20 219.68 L138.99 219.02 L140.79 218.36 L142.58 217.69 L144.38 217.02 L146.17 216.36 L147.96 215.69 L149.76 215.02 L151.55 214.35 L153.35 213.68 L155.14 213.01 L156.93 212.34 L158.73 211.67 L160.52 210.99 L162.32 210.32 L164.11 209.64 L165.90 208.96 L167.70 208.29 L169.49 207.61 L171.29 206.93 L173.08 206.25 L174.87 205.56 L176.67 204.88 L178.46 204.19 L180.26 203.51 L182.05 202.82 L183.84 202.13 L185.64 201.44 L187.43 200.75 L189.23 200.05 L191.02 199.36 L192.81 198.66 L194.61 197.96 L196.40 197.26 L198.20 196.56 L199.99 195.85 L201.78 195.15 L203.58 194.44 L205.37 193.73 L207.17 193.02 L208.96 192.31 L210.75 191.59 L212.55 190.87 L214.34 190.15 L216.14 189.43 L217.93 188.71 L219.72 187.98 L221.52 187.25 L223.31 186.52 L225.11 185.79 L226.90 185.05 L228.69 184.32 L230.49 183.57 L232.28 182.83 L234.08 182.08 L235.87 181.33 L237.66 180.58 L239.46 179.82 L241.25 179.07 L243.05 178.30 L244.84 177.54 L246.63 176.77 L248.43 176.00 L250.22 175.22 L252.02 174.44 L253.81 173.66 L255.60 172.87 L257.40 172.08 L259.19 171.29 L260.99 170.49 L262.78 169.68 L264.57 168.88 L266.37 168.06 L268.16 167.25 L269.96 166.42 L271.75 165.60 L273.54 164.77 L275.34 163.93 L277.13 163.09 L278.93 162.24 L280.72 161.39 L282.51 160.53 L284.31 159.66 L286.10 158.79 L287.90 157.91 L289.69 157.03 L291.48 156.14 L293.28 155.24 L295.07 154.34 L296.87 153.42 L298.66 152.51 L300.45 151.58 L302.25 150.64 L304.04 149.70 L305.84 148.75 L307.63 147.78 L309.42 146.81 L311.22 145.83 L313.01 144.84 L314.81 143.84 L316.60 142.83 L318.39 141.81 L320.19 140.78 L321.98 139.73 L323.78 138.67 L325.57 137.60 L327.36 136.52 L329.16 135.42 L330.95 134.31 L332.75 133.19 L334.54 132.04 L336.33 130.89 L338.13 129.71 L339.92 128.52 L341.72 127.31 L343.51 126.08 L345.30 124.82 L347.10 123.55 L348.89 122.26 L350.69 120.94 L352.48 119.60 L354.27 118.23 L356.07 116.83 L357.86 115.40 L359.66 113.95 L361.45 112.46 L363.24 110.93 L365.04 109.37 L366.83 107.77 L368.63 106.12 L370.42 104.43 L372.44 102.47 L374.34 100.55 L376.14 98.68 L377.83 96.86 L379.43 95.08 L380.94 93.35 L382.37 91.66 L383.71 90.01 L384.98 88.40 L386.18 86.83 L387.31 85.30 L388.38 83.80 L389.39 82.35 L390.34 80.93 L391.24 79.55 L392.08 78.21 L392.88 76.89 L393.64 75.62 L394.35 74.37 L395.02 73.16 L395.65 71.98 L396.25 70.83 L396.82 69.71 L397.35 68.62 L397.85 67.56 L398.33 66.53 L398.78 65.52 L399.20 64.54 L399.60 63.59 L399.97 62.67 L400.33 61.76 L400.67 60.89 L400.98 60.04 L401.28 59.21 L401.56 58.40 L401.83 57.61 L402.08 56.85 L402.32 56.11 L402.54 55.38 L402.75 54.68 L402.95 54.00 L403.14 53.33 L403.32 52.69 L403.49 52.06 L403.64 51.45 L403.79 50.86 L403.93 50.28 L404.07 49.72 L404.19 49.17 L404.31 48.64 L404.42 48.12 L404.53 47.62 L404.63 47.14 L404.72 46.66 L404.81 46.20 L404.89 45.75 L404.97 45.32 L405.05 44.89 L405.12 44.48 L405.18 44.08 L405.31 43.32 L405.42 42.59 L405.51 41.91 L405.60 41.26 L405.67 40.65 L405.74 40.07 L405.80 39.53 L405.86 39.01 L405.91 38.53 L405.95 38.07 L405.99 37.63 L406.02 37.22 L406.07 36.65 L406.10 36.13 L406.13 35.65 L406.16 35.21 L406.19 34.69 L406.21 34.24 L406.23 33.75 L406.25 33.29 L406.27 32.88 L406.28 32.48 L406.30 32.08 L406.30 32.04" fill="none" stroke="#ff8ec6" stroke-width="2.0" stroke-dasharray="27 10 4.6 10.4"/>
</g>
<g>
<text x="119.36" y="268.1" text-anchor="middle"><tspan class="zr" dx="0.6">0</tspan>.2</text>
<text x="191.12" y="268.1" text-anchor="middle"><tspan class="zr" dx="0.6">0</tspan>.4</text>
<text x="262.88" y="268.1" text-anchor="middle"><tspan class="zr" dx="0.6">0</tspan>.6</text>
<text x="334.64" y="268.1" text-anchor="middle"><tspan class="zr" dx="0.6">0</tspan>.8</text>
<text x="406.40" y="268.1" text-anchor="middle">1</text>
<text x="40.5" y="221.00" text-anchor="end"><tspan class="zr" dx="0.6">0</tspan>.25</text>
<text x="40.5" y="185.70" text-anchor="end"><tspan class="zr" dx="0.6">0</tspan>.5</text>
<text x="40.5" y="150.40" text-anchor="end"><tspan class="zr" dx="0.6">0</tspan>.75</text>
<text x="40.5" y="115.10" text-anchor="end">1</text>
<text x="40.5" y="79.80" text-anchor="end">1.25</text>
<text x="40.5" y="44.50" text-anchor="end">1.5</text>
<text class="ttl" transform="translate(226.6,15.9) scale(1.48,1)" x="0" y="0" text-anchor="middle">D7-brane embeddings</text>
<g fill="none" stroke="#444" stroke-width="0.9" transform="translate(33.2,6.9) skewX(-12)"><ellipse cx="0" cy="0" rx="3.7" ry="4.3"/><line x1="-3.7" y1="0" x2="3.7" y2="0"/></g>
<text class="lb" x="43.5" y="11.3" text-anchor="middle">(</text>
<text class="lb it" x="52.9" y="11.4" text-anchor="middle" style="font-size:12.5px">z</text>
<text class="lb" x="60.6" y="11.3" text-anchor="middle">)</text>
<text class="lb it" x="433.4" y="256.1" text-anchor="middle" style="font-size:12.5px">z</text>
</g>
</svg>
</body></html>
